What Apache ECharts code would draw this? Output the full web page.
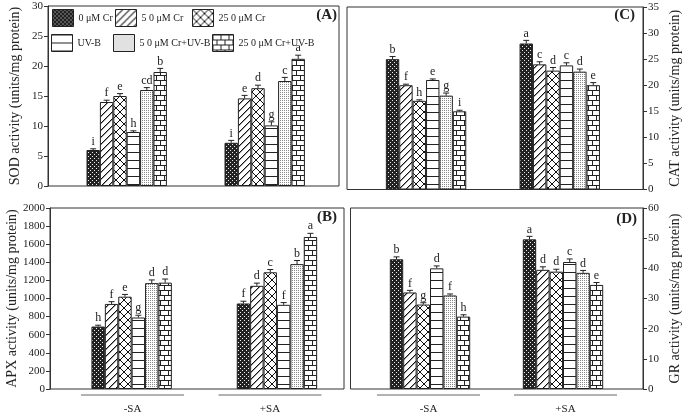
<!DOCTYPE html>
<html><head><meta charset="utf-8">
<script src="https://cdn.jsdelivr.net/npm/echarts@6/dist/echarts.min.js"></script>
<style>html,body{margin:0;padding:0;background:#fff}#c{width:685px;height:415px}</style>
</head><body><div id="c"></div>
<script>
// ---------- data ----------
const seriesNames = ['0 μM Cr', '5 0 μM Cr', '25 0 μM Cr', 'UV-B', '5 0 μM Cr+UV-B', '25 0 μM Cr+UV-B'];
const groups = ['-SA', '+SA'];
// [group][treatment]
const sodValues  = [[6.0, 14.0, 15.0, 9.0, 16.0, 19.0], [7.2, 14.6, 16.3, 10.1, 17.5, 21.2]];
const sodErrors  = [[0.2, 0.3, 0.4, 0.2, 0.4, 0.6], [0.4, 0.5, 0.5, 0.6, 0.6, 0.6]];
const sodLetters = [['i', 'f', 'e', 'h', 'cd', 'b'], ['i', 'e', 'd', 'g', 'c', 'a']];
const catValues  = [[25.0, 20.0, 17.0, 21.0, 18.0, 15.0], [28.0, 24.0, 22.8, 23.8, 22.6, 20.0]];
const catErrors  = [[0.5, 0.2, 0.2, 0.2, 0.5, 0.2], [0.6, 0.5, 0.6, 0.5, 0.5, 0.5]];
const catLetters = [['b', 'f', 'h', 'e', 'g', 'i'], ['a', 'c', 'd', 'c', 'd', 'e']];
const apxValues  = [[690, 940, 1020, 790, 1170, 1175], [945, 1140, 1290, 930, 1380, 1680]];
const apxErrors  = [[15, 25, 25, 25, 35, 40], [25, 30, 30, 25, 40, 40]];
const apxLetters = [['h', 'f', 'e', 'g', 'd', 'd'], ['f', 'd', 'c', 'f', 'b', 'a']];
const grValues   = [[43.0, 32.0, 28.0, 40.0, 31.0, 24.0], [49.6, 39.5, 38.9, 42.1, 38.5, 34.5]];
const grErrors   = [[0.8, 0.7, 0.6, 0.8, 0.5, 0.6], [1.0, 1.0, 0.8, 1.0, 0.8, 0.8]];
const grLetters  = [['b', 'f', 'g', 'd', 'f', 'h'], ['a', 'd', 'd', 'c', 'd', 'e']];

// ---------- styling / layout ----------
const SERIF = '"Liberation Serif","Times New Roman",serif';
const INK = '#222';
const BAR_W = 13.4;

function pat(w, h, draw) {
  const c = document.createElement('canvas');
  c.width = w; c.height = h;
  const ctx = c.getContext('2d');
  ctx.fillStyle = '#fff'; ctx.fillRect(0, 0, w, h);
  draw(ctx);
  return { image: c, repeat: 'repeat' };
}
const patterns = [
  pat(4, 4, ctx => { ctx.fillStyle = '#222'; ctx.fillRect(0, 0, 4, 4); ctx.fillStyle = '#eee'; ctx.fillRect(0, 0, 1, 1); ctx.fillRect(2, 2, 1, 1); }),
  pat(7, 7, ctx => { for (let i = 0; i < 7; i++) { ctx.fillStyle = '#111'; ctx.fillRect(i, 6 - i, 1, 1); ctx.fillStyle = '#999'; ctx.fillRect((i + 1) % 7, 6 - i, 1, 1); } }),
  pat(8, 8, ctx => { ctx.fillStyle = '#111'; for (let i = 0; i < 8; i++) { ctx.fillRect(i, i, 1, 1); ctx.fillRect(i, 7 - i, 1, 1); } }),
  pat(4, 8, ctx => { ctx.fillStyle = '#222'; ctx.fillRect(0, 0, 4, 1); }),
  pat(2, 2, ctx => { ctx.fillStyle = '#888'; ctx.fillRect(0, 0, 1, 1); }),
  pat(8, 10, ctx => { ctx.fillStyle = '#222'; ctx.fillRect(0, 0, 8, 1); ctx.fillRect(0, 5, 8, 1); ctx.fillRect(0, 0, 1, 5); ctx.fillRect(4, 5, 1, 5); })
];

const panels = [
  { tag: '(A)', name: 'SOD activity (units/mg protein)', values: sodValues, errors: sodErrors, letters: sodLetters,
    min: 0, max: 30, interval: 5, side: 'left', nameGap: 26,
    frame: { left: 48, top: 6, width: 291, height: 180 }, bars: { left: 57.7, width: 276 }, labels: null,
    tagPos: { right: 348, top: 8 } },
  { tag: '(C)', name: 'CAT activity (units/mg protein)', values: catValues, errors: catErrors, letters: catLetters,
    min: 0, max: 35, interval: 5, side: 'right', nameGap: 25,
    frame: { left: 347, top: 7, width: 296, height: 182.5 }, bars: { left: 359.2, width: 267.4 }, labels: null,
    tagPos: { right: 50, top: 8 } },
  { tag: '(B)', name: 'APX activity (units/mg protein)', values: apxValues, errors: apxErrors, letters: apxLetters,
    min: 0, max: 2000, interval: 200, side: 'left', nameGap: 30,
    frame: { left: 50, top: 208, width: 294, height: 181 }, bars: { left: 59, width: 290.6 }, labels: { left: 63.75, width: 275 },
    tagPos: { right: 348, top: 210 } },
  { tag: '(D)', name: 'GR activity (units/mg protein)', values: grValues, errors: grErrors, letters: grLetters,
    min: 0, max: 60, interval: 10, side: 'right', nameGap: 25,
    frame: { left: 350.5, top: 208, width: 292.5, height: 181 }, bars: { left: 363.5, width: 266 }, labels: { left: 360, width: 274 },
    tagPos: { right: 48, top: 212 } }
];

const grid = [], xAxis = [], yAxis = [], series = [], title = [];
panels.forEach(p => {
  // frame grid
  const fi = grid.length;
  grid.push({ left: p.frame.left, top: p.frame.top, width: p.frame.width, height: p.frame.height,
    show: true, borderColor: '#333', borderWidth: 1, backgroundColor: 'transparent' });
  xAxis.push({ gridIndex: fi, type: 'category', data: groups, show: false });
  yAxis.push({ gridIndex: fi, type: 'value', min: p.min, max: p.max, interval: p.interval, position: p.side,
    axisLine: { show: true, lineStyle: { color: '#333' } },
    axisTick: { show: true, length: 4, lineStyle: { color: '#333' } },
    splitLine: { show: false },
    axisLabel: { fontFamily: SERIF, fontSize: 11, color: INK, margin: 5, formatter: v => String(v) },
    name: p.name, nameLocation: 'middle', nameRotate: 90, nameGap: p.nameGap,
    nameTextStyle: { fontFamily: SERIF, fontSize: 14, color: INK } });
  // bars grid
  const bi = grid.length;
  grid.push({ left: p.bars.left, top: p.frame.top, width: p.bars.width, height: p.frame.height });
  xAxis.push({ gridIndex: bi, type: 'category', data: groups, show: false });
  yAxis.push({ gridIndex: bi, type: 'value', min: p.min, max: p.max, show: false });
  seriesNames.forEach((nm, t) => {
    series.push({ type: 'bar', name: nm, xAxisIndex: bi, yAxisIndex: bi,
      data: p.values.map(g => g[t]), barWidth: BAR_W, barGap: '0%', silent: true,
      itemStyle: { color: patterns[t], borderColor: INK, borderWidth: 1 } });
  });
  const edata = [];
  p.values.forEach((g, gi) => g.forEach((v, t) => edata.push([gi, v, p.errors[gi][t], t])));
  const letters = p.letters;
  series.push({ type: 'custom', xAxisIndex: bi, yAxisIndex: bi, data: edata, silent: true, z: 5,
    encode: { x: 0, y: 1 },
    renderItem: (params, api) => {
      const g = api.value(0), v = api.value(1), e = api.value(2), t = api.value(3);
      const p0 = api.coord([g, v]);
      const p1 = api.coord([g, v + e]);
      const x = p0[0] + (t - 2.5) * BAR_W;
      return { type: 'group', children: [
        { type: 'line', shape: { x1: x, y1: p0[1], x2: x, y2: p1[1] }, style: { stroke: INK, lineWidth: 1 } },
        { type: 'line', shape: { x1: x - 3, y1: p1[1], x2: x + 3, y2: p1[1] }, style: { stroke: INK, lineWidth: 1 } },
        { type: 'text', style: { text: letters[g][t], x: x, y: p1[1] - 1, align: 'center', verticalAlign: 'bottom',
          fontSize: 12, fontFamily: SERIF, fill: INK } }
      ] };
    } });
  // group labels grid
  if (p.labels) {
    const li = grid.length;
    grid.push({ left: p.labels.left, top: p.frame.top, width: p.labels.width, height: p.frame.height });
    xAxis.push({ gridIndex: li, type: 'category', data: groups,
      axisLine: { show: false }, axisTick: { show: false },
      axisLabel: { margin: 6, interval: 0, formatter: v => '{l| }\n{t|' + v + '}',
        rich: { l: { width: 103, height: 1, lineHeight: 1, fontSize: 1, backgroundColor: '#666' },
                t: { fontSize: 11, lineHeight: 28, fontFamily: SERIF, color: INK } } } });
    yAxis.push({ gridIndex: li, type: 'value', min: p.min, max: p.max, show: false });
  }
  title.push({ text: p.tag, right: p.tagPos.right, top: p.tagPos.top, padding: 0,
    textStyle: { fontFamily: SERIF, fontSize: 15, fontWeight: 'bold', color: INK } });
});

const legendPos = [
  { left: 52, top: 9 }, { left: 115, top: 9 }, { left: 192, top: 9 },
  { left: 51, top: 34 }, { left: 113, top: 34 }, { left: 212, top: 34 }
];
const legend = seriesNames.map((nm, i) => ({
  data: [nm], left: legendPos[i].left, top: legendPos[i].top, padding: 0,
  itemWidth: 21, itemHeight: 17, icon: 'rect', selectedMode: false,
  itemStyle: { borderColor: INK, borderWidth: 1 },
  textStyle: { fontFamily: SERIF, fontSize: 10, color: INK }
}));

const chart = echarts.init(document.getElementById('c'), null, { renderer: 'canvas' });
chart.setOption({ animation: false, backgroundColor: '#fff', title, legend, grid, xAxis, yAxis, series });
</script></body></html>
